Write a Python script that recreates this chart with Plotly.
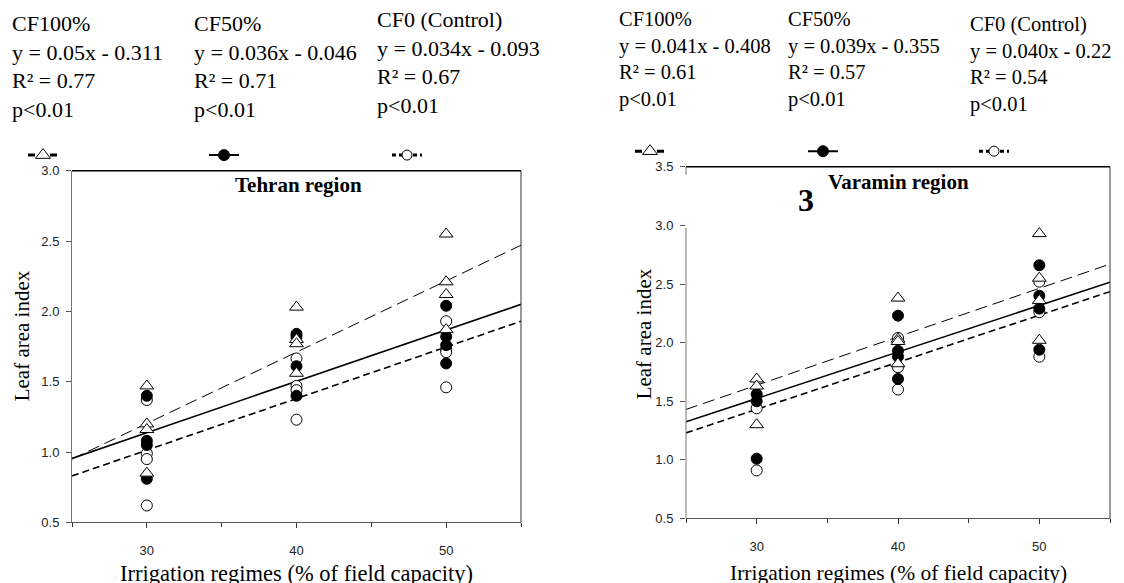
import plotly.graph_objects as go

W, H = 1124, 583

# ---------------- data ----------------
series_names = ["CF100%", "CF50%", "CF0 (Control)"]

tehran_cf100_x = [30, 30, 30, 30, 40, 40, 40, 40, 50, 50, 50, 50]
tehran_cf100_y = [1.47, 1.20, 1.16, 0.85, 2.03, 1.80, 1.77, 1.56, 2.55, 2.21, 2.12, 1.87]
tehran_cf50_x = [30, 30, 30, 30, 40, 40, 40, 40, 50, 50, 50, 50]
tehran_cf50_y = [1.40, 1.08, 1.05, 0.81, 1.84, 1.82, 1.61, 1.40, 2.04, 1.82, 1.76, 1.63]
tehran_cf0_x = [30, 30, 30, 30, 40, 40, 40, 40, 50, 50, 50, 50]
tehran_cf0_y = [1.37, 0.99, 0.95, 0.62, 1.665, 1.47, 1.44, 1.23, 1.93, 1.73, 1.71, 1.46]

varamin_cf100_x = [30, 30, 30, 40, 40, 40, 40, 50, 50, 50, 50]
varamin_cf100_y = [1.69, 1.63, 1.30, 2.38, 2.03, 2.01, 1.82, 2.93, 2.55, 2.36, 2.02]
varamin_cf50_x = [30, 30, 30, 40, 40, 40, 40, 50, 50, 50, 50]
varamin_cf50_y = [1.56, 1.50, 1.01, 2.23, 1.93, 1.88, 1.69, 2.66, 2.40, 2.29, 1.94]
varamin_cf0_x = [30, 30, 40, 40, 40, 50, 50, 50]
varamin_cf0_y = [1.44, 0.91, 2.04, 1.79, 1.60, 2.52, 2.26, 1.88]

# fitted lines as drawn (value at the two ends of the x axis)
fit_x = [25, 55]
tehran_fit_cf100 = [0.95, 2.47]
tehran_fit_cf50 = [0.955, 2.05]
tehran_fit_cf0 = [0.83, 1.93]
varamin_fit_cf100 = [1.43, 2.67]
varamin_fit_cf50 = [1.325, 2.515]
varamin_fit_cf0 = [1.23, 2.435]

tehran_eq = ["y = 0.05x - 0.311", "y = 0.036x - 0.046", "y = 0.034x - 0.093"]
tehran_r2 = ["0.77", "0.71", "0.67"]
varamin_eq = ["y = 0.041x - 0.408", "y = 0.039x - 0.355", "y = 0.040x - 0.22"]
varamin_r2 = ["0.61", "0.57", "0.54"]
p_text = "p&lt;0.01"

x_ticks = [30, 40, 50]
x_minor = [25, 35, 45, 55]

# ---------------- styles ----------------
SERIF = "Liberation Serif, Times New Roman, serif"
SANS = "Liberation Sans, Arial, sans-serif"

marker_styles = [
    dict(symbol="triangle-up", size=12, color="white", line=dict(color="black", width=1)),
    dict(symbol="circle", size=11, color="black", line=dict(color="black", width=1)),
    dict(symbol="circle", size=11, color="white", line=dict(color="black", width=1)),
]
legend_marker_styles = [
    dict(symbol="triangle-up", size=13, color="white", line=dict(color="black", width=1)),
    dict(symbol="circle", size=11, color="black", line=dict(color="black", width=1)),
    dict(symbol="circle", size=10, color="white", line=dict(color="black", width=1)),
]
line_styles = [
    dict(color="black", width=1, dash="12px,6px"),
    dict(color="black", width=1.6),
    dict(color="black", width=1.6, dash="7px,4px"),
]
legend_line_styles = [
    dict(color="black", width=3, dash="7px,15px"),
    dict(color="black", width=2),
    dict(color="black", width=3, dash="4px,3px"),
]


def px_x(p):
    return p / W


def px_y(p):
    return 1 - p / H


fig = go.Figure()

regions = [
    dict(xa="x", ya="y",
         pts=[(tehran_cf100_x, tehran_cf100_y), (tehran_cf50_x, tehran_cf50_y), (tehran_cf0_x, tehran_cf0_y)],
         fits=[tehran_fit_cf100, tehran_fit_cf50, tehran_fit_cf0]),
    dict(xa="x2", ya="y2",
         pts=[(varamin_cf100_x, varamin_cf100_y), (varamin_cf50_x, varamin_cf50_y), (varamin_cf0_x, varamin_cf0_y)],
         fits=[varamin_fit_cf100, varamin_fit_cf50, varamin_fit_cf0]),
]

for reg in regions:
    for i in range(3):
        fig.add_trace(go.Scatter(x=fit_x, y=reg["fits"][i], mode="lines", line=line_styles[i],
                                 xaxis=reg["xa"], yaxis=reg["ya"], showlegend=False, hoverinfo="skip"))
    for i in [2, 1, 0]:
        xs, ys = reg["pts"][i]
        fig.add_trace(go.Scatter(x=xs, y=ys, mode="markers", marker=marker_styles[i],
                                 xaxis=reg["xa"], yaxis=reg["ya"], showlegend=False,
                                 name=series_names[i]))

# legend symbols (one legend per column)
legend_centers = [(43, 152), (224, 152), (407, 152), (650, 148), (823, 148), (994, 148)]
legend_layouts = {}
for k, (cx, cy) in enumerate(legend_centers):
    i = k % 3
    lname = "legend" if k == 0 else f"legend{k + 1}"
    fig.add_trace(go.Scatter(x=[None], y=[None], mode="lines+markers", name="",
                             line=legend_line_styles[i], marker=legend_marker_styles[i],
                             legend=lname, showlegend=True,
                             xaxis="x" if k < 3 else "x2", yaxis="y" if k < 3 else "y2"))
    legend_layouts[lname] = dict(x=px_x(cx - 20), y=px_y(cy), xanchor="left", yanchor="middle",
                                 bgcolor="rgba(0,0,0,0)", borderwidth=0, font=dict(size=6),
                                 itemwidth=30)

annotations = []
# header text blocks
tehran_cols = [(10, 2), (192, 2), (375, -2)]
varamin_cols = [(617, -1), (786, -1), (968, 4)]
for (cols, eqs, r2s, fs) in [(tehran_cols, tehran_eq, tehran_r2, 22), (varamin_cols, varamin_eq, varamin_r2, 20.5)]:
    for i, (x0, y0) in enumerate(cols):
        txt = f"{series_names[i]}<br>{eqs[i]}<br>R² = {r2s[i]}<br>{p_text}"
        annotations.append(dict(text=txt, x=px_x(x0), y=px_y(y0), xref="paper", yref="paper",
                                xanchor="left", yanchor="top", align="left", showarrow=False,
                                font=dict(family=SERIF, size=fs, color="black")))

# region titles
annotations.append(dict(text="<b>Tehran region</b>", x=px_x(298), y=px_y(183), xref="paper", yref="paper",
                        xanchor="center", yanchor="middle",
                        showarrow=False, font=dict(family=SERIF, size=21, color="black")))
annotations.append(dict(text="<b>Varamin region</b>", x=px_x(898), y=px_y(180), xref="paper", yref="paper",
                        xanchor="center", yanchor="middle",
                        showarrow=False, font=dict(family=SERIF, size=21, color="black")))
annotations.append(dict(text="<b>3</b>", x=px_x(806), y=px_y(198), xref="paper", yref="paper",
                        xanchor="center", yanchor="middle",
                        showarrow=False, font=dict(family=SERIF, size=32, color="black")))

# axis titles
for cx, fs in [(296, 22.5), (898, 21.5)]:
    annotations.append(dict(text="Irrigation regimes (% of field capacity)", x=px_x(cx), y=px_y(581),
                            xref="paper", yref="paper", showarrow=False, xanchor="center", yanchor="middle",
                            font=dict(family=SERIF, size=fs, color="black")))
for cx, cy in [(22, 338), (644, 336)]:
    annotations.append(dict(text="Leaf area index", x=px_x(cx), y=px_y(cy), textangle=-90,
                            xref="paper", yref="paper", showarrow=False, xanchor="center", yanchor="middle",
                            font=dict(family=SERIF, size=21, color="black")))

tickfont = dict(family=SANS, size=13, color="#222")


def xaxis_cfg(domain, anchor):
    return dict(domain=domain, anchor=anchor, range=[25, 55], tickvals=x_ticks, ticks="outside",
                ticklen=5, tickcolor="#333", showline=True, linecolor="#555", linewidth=1,
                showgrid=False, zeroline=False, tickfont=tickfont, ticklabelstandoff=11,
                minor=dict(tickvals=x_minor, ticks="outside", ticklen=4, tickcolor="#333"))


def yaxis_cfg(domain, anchor, rng, showline=True):
    return dict(domain=domain, anchor=anchor, range=rng, tick0=0.5, dtick=0.5, tickformat=".1f",
                ticks="outside", ticklen=5, tickcolor="#555", showline=showline, linecolor="#777",
                linewidth=1, showgrid=False, zeroline=False, tickfont=tickfont, ticklabelstandoff=4)


shapes = [
    # left panel top and right borders
    dict(type="line", xref="x domain", yref="y domain", x0=0, x1=1, y0=1, y1=1,
         line=dict(color="black", width=1.5)),
    dict(type="line", xref="x domain", yref="y domain", x0=1, x1=1, y0=0, y1=1,
         line=dict(color="#333", width=1)),
    # right panel borders
    dict(type="line", xref="x2 domain", yref="y2 domain", x0=0, x1=1, y0=1, y1=1,
         line=dict(color="black", width=1.5)),
    dict(type="line", xref="x2 domain", yref="y2 domain", x0=1, x1=1, y0=0, y1=1,
         line=dict(color="#333", width=1)),
    dict(type="line", xref="x2 domain", yref="y2", x0=0, x1=0, y0=0.5, y1=2.98,
         line=dict(color="#777", width=1)),
    dict(type="line", xref="x2 domain", yref="y2", x0=0, x1=0, y0=3.43, y1=3.5,
         line=dict(color="#777", width=1)),
]

fig.update_layout(
    width=W, height=H, autosize=False,
    margin=dict(l=0, r=0, t=0, b=0),
    paper_bgcolor="white", plot_bgcolor="white",
    xaxis=xaxis_cfg([px_x(72), px_x(521)], "y"),
    yaxis=yaxis_cfg([px_y(529), px_y(168)], "x", [0.5, 3.0]),
    xaxis2=xaxis_cfg([px_x(686), px_x(1110)], "y2"),
    yaxis2=yaxis_cfg([px_y(525), px_y(164)], "x2", [0.5, 3.5], showline=False),
    annotations=annotations,
    shapes=shapes,
    showlegend=True,
    **legend_layouts,
)

fig.write_html("out.html", config={"displayModeBar": False},
               post_script="document.body.style.margin='0px';document.body.style.overflow='hidden';")
